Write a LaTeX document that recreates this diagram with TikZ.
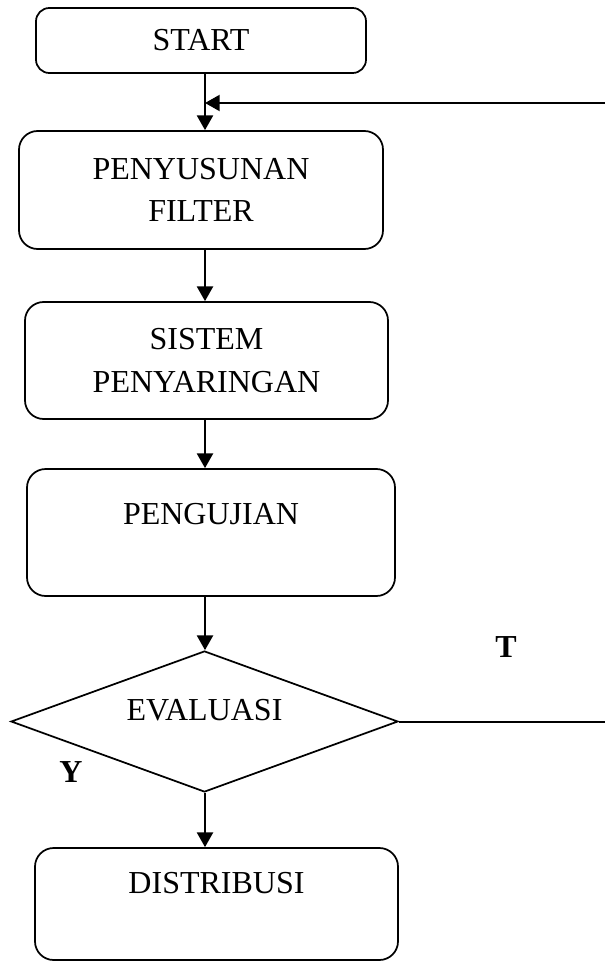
\documentclass[tikz,border=0pt]{standalone}
\usepackage{fontspec}
\setmainfont{Liberation Serif}
\usetikzlibrary{shapes.geometric,arrows.meta}
\begin{document}
\begin{tikzpicture}[x=0.75pt,y=-0.75pt,
        font=\fontsize{24}{32}\selectfont,
        box/.style={draw,rounded corners=14pt,line width=1.3pt,inner sep=0pt,align=center},
        arrow/.style={line width=1.5pt,-{Triangle[length=11pt,width=12pt]}}]
                    \useasboundingbox (0,0) rectangle (605,962);
                    \coordinate (spine) at (205,0);
                    \coordinate (join) at (205,103);
                    \coordinate (loop) at (610,103);

                    \node[box,rounded corners=10pt,minimum width=247.5pt,minimum height=48.75pt] (start) at (201,40.5) {START};
                    \node[box,minimum width=273pt,minimum height=88.5pt] (filter) at (201,190) {PENYUSUNAN\\FILTER};
                    \node[box,minimum width=272.25pt,minimum height=87.75pt] (sistem) at (206.5,360.5) {SISTEM\\PENYARINGAN};
                    \node[box,minimum width=276pt,minimum height=95.25pt,text height=6pt,text depth=17.9pt] (pengujian) at (211,532.5) {PENGUJIAN};
                    \node[draw,diamond,line width=1.3pt,inner sep=0pt,aspect=2.74,minimum width=290.25pt,minimum height=105.75pt,text height=9pt,text depth=10.3pt] (evaluasi) at (204.5,721.5) {EVALUASI};
                    \node[box,minimum width=272.25pt,minimum height=84pt,text height=5pt,text depth=20.6pt] (distribusi) at (216.5,904) {DISTRIBUSI};

                    \node[font=\fontsize{24}{32}\selectfont\bfseries] (tlabel) at (506,647) {T};
                    \node[font=\fontsize{24}{32}\selectfont\bfseries] (ylabel) at (71,772) {Y};

                    \draw[arrow] (start.south -| spine) -- (filter.north -| spine);
                    \draw[arrow] (filter.south -| spine) -- (sistem.north -| spine);
                    \draw[arrow] (sistem.south -| spine) -- (pengujian.north -| spine);
                    \draw[arrow] (pengujian.south -| spine) -- (evaluasi.north -| spine);
                    \draw[arrow] (evaluasi.south -| spine) -- (distribusi.north -| spine);
                    \draw[arrow] (evaluasi.east) -| (loop) -- (join);
                \end{tikzpicture}
\end{document}
